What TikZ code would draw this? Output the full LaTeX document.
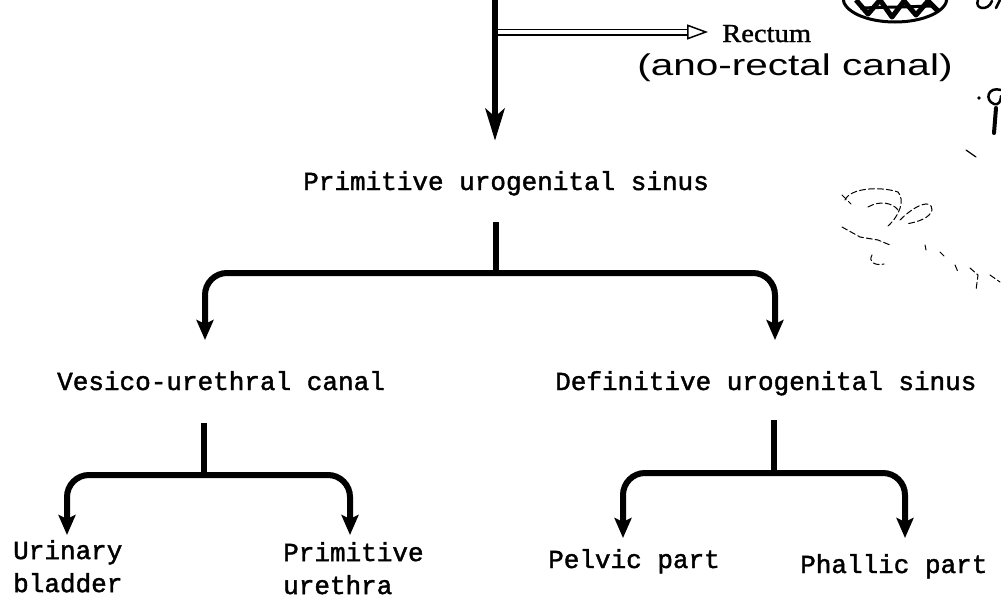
\documentclass[tikz,border=0pt]{standalone}
\usepackage{fontspec}
\usepackage{graphicx}
\usetikzlibrary{arrows.meta,calc}
\newfontfamily\tw[FakeBold=1.6]{Liberation Mono}
\newfontfamily\rmx[FakeBold=1.2]{Liberation Serif}
\newfontfamily\hw{Liberation Sans}
\begin{document}
\begin{tikzpicture}[x=1pt,y=-1pt,
  lbl/.style={font=\tw\fontsize{26}{33}\selectfont, inner sep=0pt, text height=15pt, text depth=5pt, anchor=base west},
  lbltwo/.style={font=\tw\fontsize{26}{33}\selectfont, inner sep=0pt, align=left, anchor=north west},
  mainarrow/.style={line width=6pt, -{Stealth[length=32pt,width=19pt,inset=8pt]}},
  stem/.style={line width=6pt},
  branch/.style={line width=6pt, rounded corners=22pt, -{Stealth[length=20pt,width=17pt,inset=4pt]}},
  dbl/.style={double, double distance=4pt, line width=1.5pt, -{Triangle[open,length=21pt,width=15pt]}},
  scribble/.style={line width=2.5pt, line cap=round, line join=round},
  faint/.style={line width=1pt, line cap=round, dash pattern=on 6pt off 3pt},
]
\fill[white] (0,0) rectangle (1001,598);
\useasboundingbox (0,0) rectangle (1001,598);

% level 1
\node[lbl] (pus) at (303,190) {Primitive urogenital sinus};
\coordinate (top) at (495,-8);
\draw[mainarrow, shorten >=34pt] (top) -- (top |- pus.north);

\node[font=\rmx\fontsize{26}{30}\selectfont, inner sep=0pt, anchor=base west] (rect) at (722,42) {\scalebox{1.1}[1]{Rectum}};
\coordinate (r0) at (498,32);
\draw[dbl, shorten >=14pt] (r0) -- (r0 -| rect.west);
\node[font=\hw\fontsize{30}{36}\selectfont, inner sep=0pt] (hand) at (795,68) {\scalebox{1.35}[1]{(ano-rectal canal)}};

% level 2
\node[lbl] (vuc) at (57,390) {Vesico-urethral canal};
\node[lbl] (dus) at (555,390) {Definitive urogenital sinus};
\coordinate (j1) at (496,273);
\coordinate (a1) at (205,340);
\coordinate (a2) at (775,340);
\draw[stem, shorten <=27pt] (pus.south -| j1) -- (j1);
\draw[branch] (j1) -| (a1);
\draw[branch] (j1) -| (a2);

% level 3
\node[lbltwo] (ub) at (13,540) {Urinary\\bladder};
\node[lbltwo] (pu) at (283,542) {Primitive\\urethra};
\node[lbl] (pel) at (548,568) {Pelvic part};
\node[lbl] (pha) at (800,573) {Phallic part};
\coordinate (j2) at (204,475);
\coordinate (b1) at (67,535);
\coordinate (b2) at (350,535);
\draw[stem, shorten <=28pt] (vuc.south -| j2) -- (j2);
\draw[branch] (j2) -| (b1);
\draw[branch] (j2) -| (b2);
\coordinate (j3) at (774,473);
\coordinate (c1) at (623,538);
\coordinate (c2) at (905,538);
\draw[stem, shorten <=25pt] (dus.south -| j3) -- (j3);
\draw[branch] (j3) -| (c1);
\draw[branch] (j3) -| (c2);

% handwritten marks at the right edge
\draw[line width=3pt] (895,-2) ellipse [x radius=52, y radius=24];
\draw[line width=5pt, line join=round] (856,0) -- (868,14) -- (880,0) -- (892,17) -- (904,1) -- (916,15) -- (928,1) -- (938,11);
\draw[line width=3pt] (860,8) -- (935,6);
\draw[scribble] (978,0) .. controls (974,9) and (988,12) .. (992,1);
\draw[scribble] (996,8) -- (1000,0);
\fill (979,98) circle (1.8);
\draw[scribble] (1001,90) .. controls (988,86) and (984,100) .. (994,104) .. controls (999,106) and (1001,100) .. (1001,96);
\draw[line width=4pt, line cap=round] (996,108) -- (994,133);
\draw[line width=1.2pt, line cap=round] (966,150) -- (976,157);
\draw[faint] (845,200) .. controls (850,188) and (880,186) .. (898,192) .. controls (905,200) and (900,215) .. (888,226);
\draw[faint] (842,195) -- (851,204);
\draw[faint] (868,207) .. controls (880,200) and (893,203) .. (898,210);
\draw[faint] (900,220) .. controls (915,205) and (932,198) .. (932,210) .. controls (930,218) and (918,222) .. (906,224);
\draw[faint] (842,227) -- (860,237) -- (878,240) -- (890,245);
\draw[faint] (872,255) .. controls (868,262) and (875,266) .. (884,264);
\draw[faint] (925,245) -- (926,250);
\draw[faint] (940,252) -- (944,256);
\draw[faint] (955,265) -- (958,272);
\draw[faint] (970,268) -- (978,275) -- (976,290);
\draw[faint] (990,275) -- (1000,282);
\end{tikzpicture}
\end{document}
